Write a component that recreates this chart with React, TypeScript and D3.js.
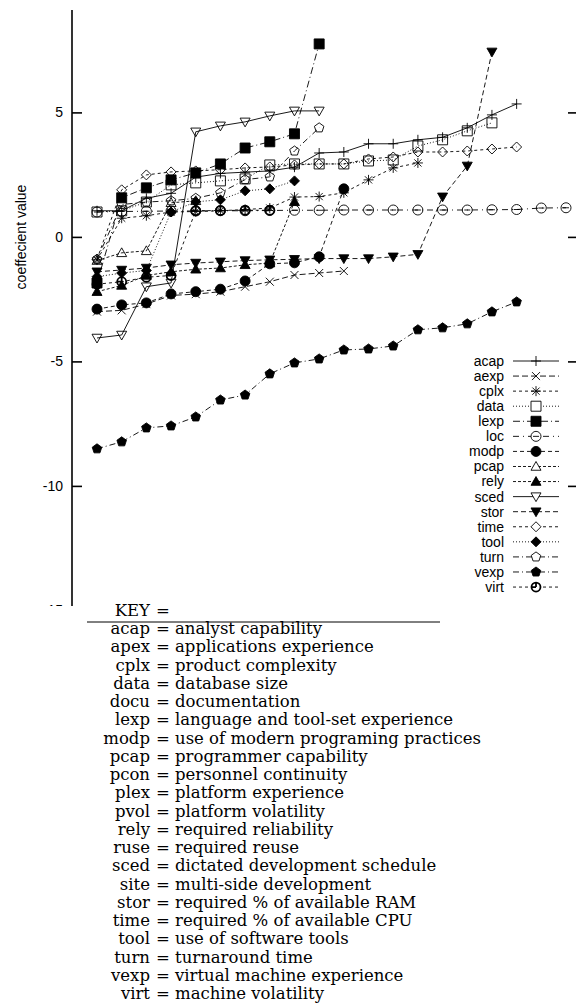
import { useRef, useEffect } from 'react';
import * as d3 from 'd3';

const W = 576;
const H = 1004;

// sorted coefficient values, one array per attribute (position = rank)
const acap = [1.05, 1.05, 1.55, 1.75, 2.4, 2.55, 2.6, 2.65, 2.8, 3.37, 3.41, 3.74, 3.74, 3.9, 4.0, 4.38, 4.9, 5.34];
const aexp = [-3.0, -2.95, -2.7, -2.35, -2.3, -2.2, -2.0, -1.8, -1.53, -1.45, -1.37];
const cplx = [-0.92, 0.75, 0.85, 1.0, 1.02, 1.05, 1.1, 1.16, 1.6, 1.62, 1.77, 2.29, 2.77, 2.97];
const data = [1.0, 1.05, 1.4, 2.09, 2.17, 2.25, 2.33, 2.89, 2.93, 2.93, 2.93, 3.05, 3.09, 3.65, 3.9, 4.26, 4.58];
const lexp = [-1.85, 1.57, 1.97, 2.29, 2.57, 2.93, 3.57, 3.82, 4.14, 7.75];
const loc = [1.0, 1.02, 1.03, 1.04, 1.04, 1.05, 1.05, 1.06, 1.07, 1.07, 1.08, 1.08, 1.08, 1.08, 1.08, 1.08, 1.09, 1.1, 1.16, 1.17];
const modp = [-2.9, -2.73, -2.65, -2.29, -2.2, -2.1, -1.77, -1.08, -1.04, -0.8, 1.93];
const pcap = [-0.95, -0.64, -0.56, 1.37, 1.45];
const rely = [-2.2, -1.95, -1.55, -1.4, -1.3, -1.25, -1.12, -1.05, 1.41];
const sced = [-4.06, -3.94, -2.0, -1.85, 4.22, 4.46, 4.62, 4.86, 5.06, 5.06];
const stor = [-1.4, -1.33, -1.25, -1.12, -1.05, -1.0, -0.95, -0.92, -0.9, -0.87, -0.87, -0.87, -0.8, -0.7, 1.61, 2.85, 7.43];
const time = [-0.9, 1.89, 2.49, 2.61, 2.65, 2.7, 2.77, 2.81, 2.89, 2.93, 2.93, 3.13, 3.21, 3.41, 3.41, 3.45, 3.53, 3.61];
const tool = [-1.6, -1.45, -1.35, 1.0, 1.41, 1.49, 1.85, 1.93, 2.25];
const turn = [-0.9, 1.3, 1.4, 1.45, 1.55, 1.77, 2.3, 2.41, 3.45, 4.38];
const vexp = [-8.51, -8.23, -7.67, -7.59, -7.23, -6.55, -6.35, -5.5, -5.06, -4.9, -4.54, -4.5, -4.38, -3.73, -3.65, -3.49, -3.01, -2.61];
const virt = [-1.9, -1.8, -1.62, -1.55, 1.05, 1.06, 1.07, 1.07];

const yTicks = [-15, -10, -5, 0, 5];

const keyAbbr = ['acap', 'apex', 'cplx', 'data', 'docu', 'lexp', 'modp', 'pcap', 'pcon', 'plex', 'pvol',
  'rely', 'ruse', 'sced', 'site', 'stor', 'time', 'tool', 'turn', 'vexp', 'virt'];
const keyText = ['analyst capability', 'applications experience', 'product complexity', 'database size',
  'documentation', 'language and tool-set experience', 'use of modern programing practices',
  'programmer capability', 'personnel continuity', 'platform experience', 'platform volatility',
  'required reliability', 'required reuse', 'dictated development schedule', 'multi-side development',
  'required % of available RAM', 'required % of available CPU', 'use of software tools',
  'turnaround time', 'virtual machine experience', 'machine volatility'];

const series = [
  { name: 'acap', values: acap, dash: null, shape: 'plus' },
  { name: 'aexp', values: aexp, dash: '6,3', shape: 'cross' },
  { name: 'cplx', values: cplx, dash: '3,3', shape: 'star' },
  { name: 'data', values: data, dash: '1,2', shape: 'square' },
  { name: 'lexp', values: lexp, dash: '7,3,1,3', shape: 'squareF' },
  { name: 'loc', values: loc, dash: '6,4,1,4', shape: 'circleBar' },
  { name: 'modp', values: modp, dash: '4,3', shape: 'circleF' },
  { name: 'pcap', values: pcap, dash: '3,2', shape: 'triUp' },
  { name: 'rely', values: rely, dash: '3,2', shape: 'triUpF' },
  { name: 'sced', values: sced, dash: null, shape: 'triDown' },
  { name: 'stor', values: stor, dash: '5,3', shape: 'triDownF' },
  { name: 'time', values: time, dash: '3,3', shape: 'diamond' },
  { name: 'tool', values: tool, dash: '1,2', shape: 'diamondF' },
  { name: 'turn', values: turn, dash: '6,3,1,3', shape: 'pent' },
  { name: 'vexp', values: vexp, dash: '6,3,1,3', shape: 'pentF' },
  { name: 'virt', values: virt, dash: '3,3', shape: 'clock' },
];

function circlePath(r) {
  return `M${r},0A${r},${r} 0 1 1 ${-r},0A${r},${r} 0 1 1 ${r},0Z`;
}

function markerPath(shape) {
  const s = 5;
  switch (shape) {
    case 'plus':
      return `M${-s},0H${s}M0,${-s}V${s}`;
    case 'cross':
      return `M-4,-4L4,4M-4,4L4,-4`;
    case 'star':
      return `M${-s},0H${s}M0,${-s}V${s}M-3.6,-3.6L3.6,3.6M-3.6,3.6L3.6,-3.6`;
    case 'square':
    case 'squareF':
      return `M${-s},${-s}H${s}V${s}H${-s}Z`;
    case 'circleBar':
      return circlePath(s) + `M-3,0H3`;
    case 'circleF':
      return circlePath(s);
    case 'triUp':
    case 'triUpF':
      return `M0,${-s}L${s},${s * 0.75}L${-s},${s * 0.75}Z`;
    case 'triDown':
    case 'triDownF':
      return `M0,${s}L${s},${-s * 0.75}L${-s},${-s * 0.75}Z`;
    case 'diamond':
    case 'diamondF':
      return `M0,${-s}L${s},0L0,${s}L${-s},0Z`;
    case 'pent':
    case 'pentF': {
      const pts = d3.range(5).map(k => {
        const a = -Math.PI / 2 + (k * 2 * Math.PI) / 5;
        return [Math.cos(a) * s, Math.sin(a) * s];
      });
      return 'M' + pts.map(p => p.join(',')).join('L') + 'Z';
    }
    case 'clock':
      return circlePath(4.5) + 'M0,0V-4M0,0H-4';
    default:
      return '';
  }
}

const isFilled = shape => shape.endsWith('F');

export default function App() {
  const svgRef = useRef(null);

  function renderChart() {
    const svg = d3.select(svgRef.current);
    svg.selectAll('*').remove();

    const x = d3.scaleLinear().domain([0, 19]).range([97, 566]);
    const y = d3.scaleLinear().domain([-15, 5]).range([610.4, 112.4]);

    const plot = svg.append('g');

    // left axis
    const yAxis = d3.axisLeft(y).tickValues(yTicks).tickFormat(d => String(d))
      .tickSize(-10).tickSizeOuter(0).tickPadding(9);
    const gy = plot.append('g').attr('transform', 'translate(72,0)').call(yAxis);
    gy.select('.domain').remove();
    gy.selectAll('.tick line').attr('stroke', '#000').attr('stroke-width', 1.6);
    gy.selectAll('.tick text')
      .attr('font-family', 'Liberation Sans, Arial, sans-serif')
      .attr('font-size', 14)
      .attr('fill', '#000');
    plot.append('line')
      .attr('x1', 72).attr('x2', 72).attr('y1', 10).attr('y2', 606)
      .attr('stroke', '#000').attr('stroke-width', 1.6);

    // right axis ticks (frame edge is just beyond the picture)
    const yAxisR = d3.axisRight(y).tickValues(yTicks).tickSize(-10).tickSizeOuter(0).tickFormat(() => '');
    const gr = plot.append('g').attr('transform', 'translate(578,0)').call(yAxisR);
    gr.select('.domain').attr('d', `M0,10V606`).attr('stroke', '#000');
    gr.selectAll('.tick line').attr('stroke', '#000').attr('stroke-width', 1.6);

    plot.append('text')
      .attr('transform', 'translate(26,237) rotate(-90)')
      .attr('text-anchor', 'middle')
      .attr('font-family', 'Liberation Sans, Arial, sans-serif')
      .attr('font-size', 14)
      .text('coeffecient value');

    const line = d3.line().x((d, i) => x(i)).y(d => y(d));

    series.forEach(s => {
      const g = plot.append('g');
      g.append('path')
        .datum(s.values)
        .attr('d', line)
        .attr('fill', 'none')
        .attr('stroke', '#000')
        .attr('stroke-width', 0.9)
        .attr('stroke-dasharray', s.dash);
      g.selectAll('path.m')
        .data(s.values)
        .join('path')
        .attr('class', 'm')
        .attr('transform', (d, i) => `translate(${x(i)},${y(d)})`)
        .attr('d', markerPath(s.shape))
        .attr('fill', isFilled(s.shape) ? '#000' : 'none')
        .attr('stroke', '#000')
        .attr('stroke-width', s.shape === 'clock' ? 1.8 : 0.9);
    });

    // legend
    const legend = plot.append('g');
    const rows = legend.selectAll('g').data(series).join('g')
      .attr('transform', (d, i) => `translate(0,${361 + i * 15.07})`);
    rows.append('text')
      .attr('x', 504)
      .attr('dy', '0.35em')
      .attr('text-anchor', 'end')
      .attr('font-family', 'Liberation Sans, Arial, sans-serif')
      .attr('font-size', 14)
      .text(d => d.name);
    rows.append('line')
      .attr('x1', 513).attr('x2', 559)
      .attr('stroke', '#000').attr('stroke-width', 0.9)
      .attr('stroke-dasharray', d => d.dash);
    rows.append('path')
      .attr('transform', 'translate(536,0)')
      .attr('d', d => markerPath(d.shape))
      .attr('fill', d => (isFilled(d.shape) ? '#000' : '#fff'))
      .attr('stroke', '#000')
      .attr('stroke-width', d => (d.shape === 'clock' ? 1.8 : 0.9));

    // key block pasted below the plot
    const key = svg.append('g');
    key.append('rect').attr('x', 0).attr('y', 606).attr('width', W).attr('height', H - 606).attr('fill', '#fff');
    const serif = 'DejaVu Serif, Liberation Serif, serif';
    const fs = 16.5;
    key.append('text').attr('x', 150).attr('y', 616).attr('text-anchor', 'end')
      .attr('font-family', serif).attr('font-size', fs).text('KEY');
    key.append('text').attr('x', 163).attr('y', 616).attr('text-anchor', 'middle')
      .attr('font-family', serif).attr('font-size', fs).text('=');
    key.append('line').attr('x1', 87).attr('x2', 440).attr('y1', 622).attr('y2', 622)
      .attr('stroke', '#000').attr('stroke-width', 1);
    const krows = key.selectAll('g.k').data(keyAbbr).join('g').attr('class', 'k')
      .attr('transform', (d, i) => `translate(0,${634 + i * 18.25})`)
      .attr('font-family', serif).attr('font-size', fs);
    krows.append('text').attr('x', 150).attr('text-anchor', 'end').text(d => d);
    krows.append('text').attr('x', 163).attr('text-anchor', 'middle').text('=');
    krows.append('text').attr('x', 175).text((d, i) => keyText[i]);
  }

  useEffect(() => {
    renderChart();
    // eslint-disable-next-line react-hooks/exhaustive-deps
  }, []);

  return (
    <div style={{ position: 'absolute', left: 0, top: 0 }}>
      <svg ref={svgRef} width={W} height={H} style={{ display: 'block', background: '#fff' }} />
    </div>
  );
}
